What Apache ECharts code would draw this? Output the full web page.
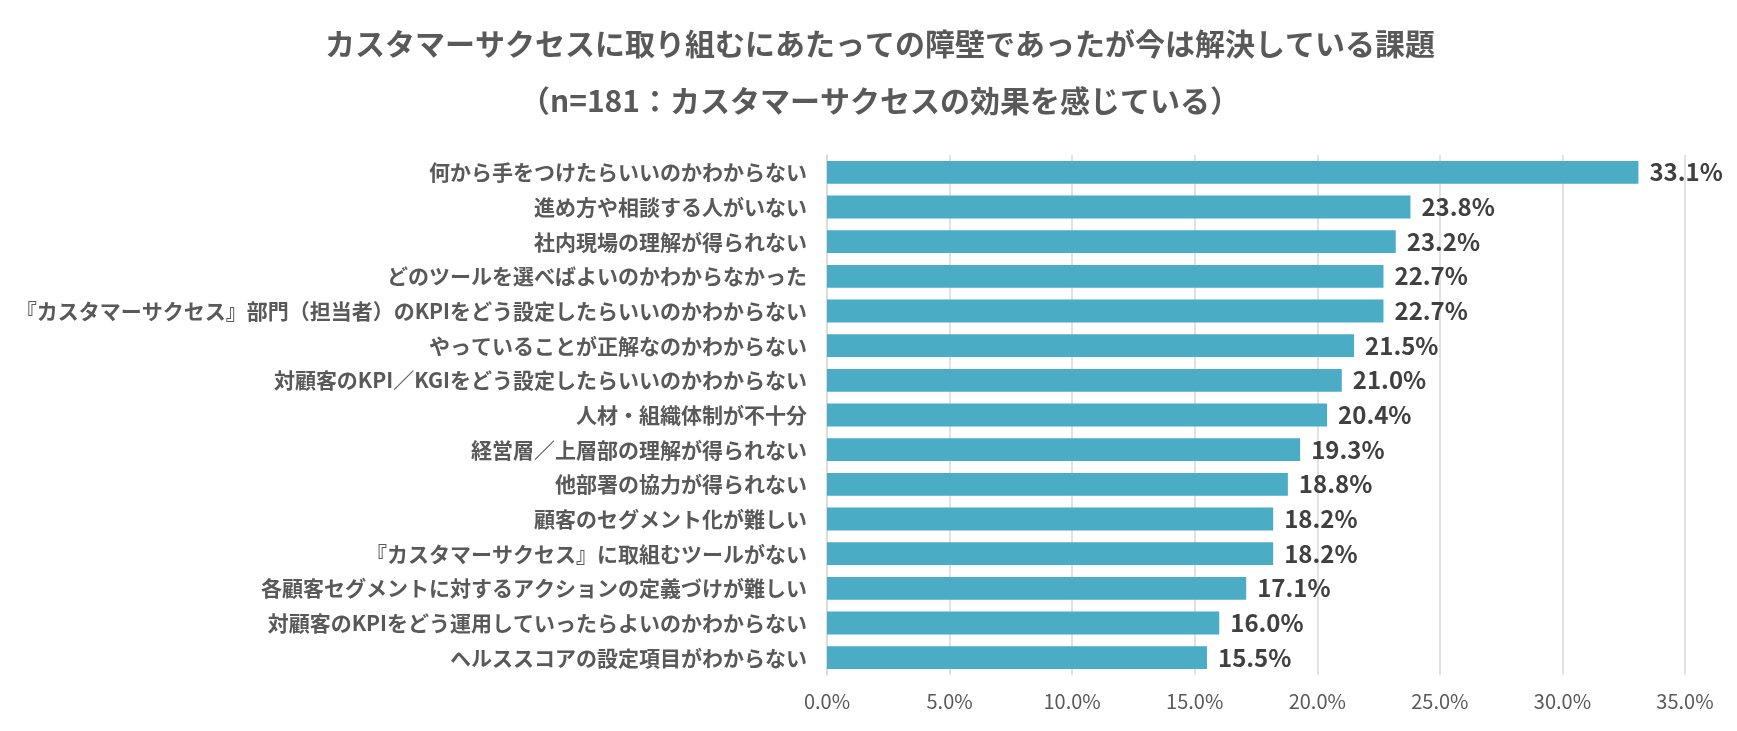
<!DOCTYPE html>
<html><head><meta charset="utf-8">
<script src="https://cdn.jsdelivr.net/npm/echarts@6/dist/echarts.min.js"></script>
<style>html,body{margin:0;padding:0;background:#fff}#c{width:1737px;height:731px}</style>
</head><body><div id="c"></div>
<script>
const titleLine1 = 'カスタマーサクセスに取り組むにあたっての障壁であったが今は解決している課題';
const titleLine2 = '（n=181：カスタマーサクセスの効果を感じている）';
const categories = [
  '何から手をつけたらいいのかわからない',
  '進め方や相談する人がいない',
  '社内現場の理解が得られない',
  'どのツールを選べばよいのかわからなかった',
  '『カスタマーサクセス』部門（担当者）のKPIをどう設定したらいいのかわからない',
  'やっていることが正解なのかわからない',
  '対顧客のKPI／KGIをどう設定したらいいのかわからない',
  '人材・組織体制が不十分',
  '経営層／上層部の理解が得られない',
  '他部署の協力が得られない',
  '顧客のセグメント化が難しい',
  '『カスタマーサクセス』に取組むツールがない',
  '各顧客セグメントに対するアクションの定義づけが難しい',
  '対顧客のKPIをどう運用していったらよいのかわからない',
  'ヘルススコアの設定項目がわからない'
];
const values = [33.1, 23.8, 23.2, 22.7, 22.7, 21.5, 21.0, 20.4, 19.3, 18.8, 18.2, 18.2, 17.1, 16.0, 15.5];
const xTicks = [0, 5, 10, 15, 20, 25, 30, 35];

const FONT = '"Noto Sans CJK JP", "Noto Sans", sans-serif';
const chart = echarts.init(document.getElementById('c'), null, {renderer: 'canvas'});
chart.setOption({
  animation: false,
  backgroundColor: '#fff',
  title: [
    {text: titleLine1, left: 875, textAlign: 'center', top: 24,
     textStyle: {fontFamily: FONT, fontSize: 30, fontWeight: 'bold', color: '#595959'}},
    {text: titleLine2, left: 875, textAlign: 'center', top: 81,
     textStyle: {fontFamily: FONT, fontSize: 30, fontWeight: 'bold', color: '#595959'}}
  ],
  grid: {left: 827, right: 52, top: 155, bottom: 56, containLabel: false},
  xAxis: {
    type: 'value', min: xTicks[0], max: xTicks[xTicks.length - 1], interval: 5,
    axisLine: {show: false}, axisTick: {show: false},
    splitLine: {show: true, lineStyle: {color: '#D9D9D9', width: 1.5}},
    axisLabel: {fontFamily: FONT, fontSize: 20, color: '#595959', margin: 16,
      formatter: v => v.toFixed(1) + '%'}
  },
  yAxis: {
    type: 'category', data: categories, inverse: true,
    axisLine: {show: true, lineStyle: {color: '#D9D9D9', width: 1.5}},
    axisTick: {show: false},
    axisLabel: {fontFamily: FONT, fontSize: 21, fontWeight: 'bold', color: '#595959', margin: 20}
  },
  series: [{
    type: 'bar', data: values, barWidth: '66%',
    itemStyle: {color: '#4BACC6'},
    label: {show: true, position: 'right', distance: 11,
      fontFamily: FONT, fontSize: 24, fontWeight: 'bold', color: '#404040',
      formatter: p => p.value.toFixed(1) + '%'}
  }]
});
</script></body></html>
